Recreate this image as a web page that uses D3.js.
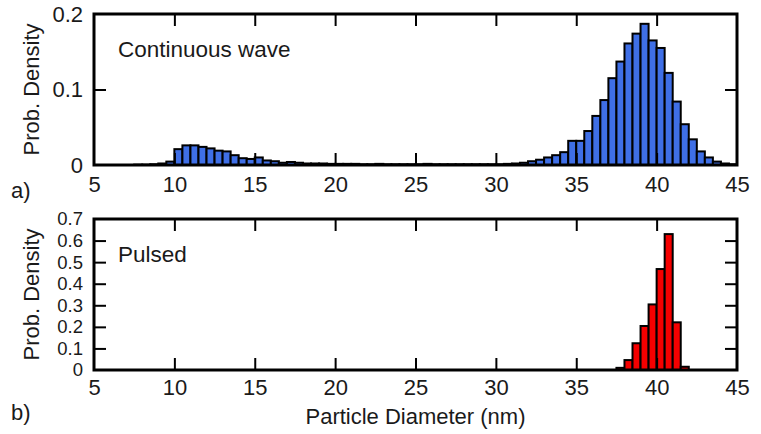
<!DOCTYPE html>
<html>
<head>
<meta charset="utf-8">
<script src="https://cdn.jsdelivr.net/npm/d3@7"></script>
<style>
  html, body { margin: 0; padding: 0; background: #fff; }
  svg { display: block; font-family: Arial, "Liberation Sans", sans-serif; }
</style>
</head>
<body>
<svg id="chart" width="761" height="434"></svg>
<script>
// Histogram bin width (nm)
const binWidth = 0.5;

// a) Continuous wave: bin start diameters (nm) and probability density
const cwBins = [
  5.0, 5.5, 6.0, 6.5, 7.0, 7.5, 8.0, 8.5, 9.0, 9.5,
  10.0, 10.5, 11.0, 11.5, 12.0, 12.5, 13.0, 13.5, 14.0, 14.5,
  15.0, 15.5, 16.0, 16.5, 17.0, 17.5, 18.0, 18.5, 19.0, 19.5,
  20.0, 20.5, 21.0, 21.5, 22.0, 22.5, 23.0, 23.5, 24.0, 24.5,
  25.0, 25.5, 26.0, 26.5, 27.0, 27.5, 28.0, 28.5, 29.0, 29.5,
  30.0, 30.5, 31.0, 31.5, 32.0, 32.5, 33.0, 33.5, 34.0, 34.5,
  35.0, 35.5, 36.0, 36.5, 37.0, 37.5, 38.0, 38.5, 39.0, 39.5,
  40.0, 40.5, 41.0, 41.5, 42.0, 42.5, 43.0, 43.5, 44.0, 44.5
];
const cwDensity = [
  0, 0, 0, 0, 0, 0.0005, 0.0005, 0.001, 0.002, 0.0045,
  0.021, 0.026, 0.026, 0.024, 0.022, 0.019, 0.018, 0.013, 0.009, 0.008,
  0.010, 0.006, 0.005, 0.003, 0.004, 0.003, 0.002, 0.002, 0.002, 0.0015,
  0.0015, 0.0015, 0.0015, 0.001, 0.001, 0.0015, 0.001, 0.001, 0.001, 0.001,
  0.001, 0.0015, 0.001, 0.001, 0.001, 0.001, 0.001, 0.001, 0.001, 0.001,
  0.001, 0.0015, 0.002, 0.003, 0.005, 0.007, 0.010, 0.013, 0.017, 0.032,
  0.032, 0.045, 0.065, 0.086, 0.115, 0.137, 0.161, 0.174, 0.187, 0.165,
  0.155, 0.122, 0.084, 0.054, 0.034, 0.018, 0.010, 0.0045, 0.002, 0.001
];

// b) Pulsed: bin start diameters (nm) and probability density
const pulsedBins = [37.5, 38.0, 38.5, 39.0, 39.5, 40.0, 40.5, 41.0, 41.5];
const pulsedDensity = [0.01, 0.046, 0.124, 0.204, 0.304, 0.468, 0.630, 0.221, 0.015];

// Axis ticks and labels
const xTicks = [5, 10, 15, 20, 25, 30, 35, 40, 45];
const cwYTicks = [0, 0.1, 0.2];
const pulsedYTicks = [0, 0.1, 0.2, 0.3, 0.4, 0.5, 0.6, 0.7];
const yLabel = "Prob. Density";
const xLabel = "Particle Diameter (nm)";

const svg = d3.select("#chart");
const left = 94, right = 737;
const x = d3.scaleLinear().domain([5, 45]).range([left, right]);

const fontSize = 22;
const tickLen = 12;
const textColor = "#1a1a1a";
const fontFamily = "Arial, 'Liberation Sans', sans-serif";

function panel(cfg) {
  const y = d3.scaleLinear().domain(cfg.yDomain).range([cfg.bottom, cfg.top]);
  const g = svg.append("g");

  // bars
  g.append("g").selectAll("rect")
    .data(cfg.bins.map((b, i) => ({ b, v: cfg.values[i] })).filter(d => d.v > 0))
    .join("rect")
    .attr("x", d => x(d.b))
    .attr("width", d => x(d.b + binWidth) - x(d.b))
    .attr("y", d => y(d.v))
    .attr("height", d => y(0) - y(d.v))
    .attr("fill", cfg.color)
    .attr("stroke", "#000")
    .attr("stroke-width", 2);

  const inner = cfg.yTicks.slice(1, -1);
  const innerX = xTicks.slice(1, -1);

  // tick labels
  const bottomAxis = g.append("g").attr("transform", `translate(0,${cfg.bottom})`)
    .call(d3.axisBottom(x).tickValues(xTicks).tickSize(0).tickPadding(cfg.xPad).tickFormat(d3.format("d")));
  bottomAxis.select(".domain").remove();
  bottomAxis.selectAll("text").attr("font-size", fontSize).attr("font-family", fontFamily).attr("fill", textColor);

  const leftAxis = g.append("g").attr("transform", `translate(${left},0)`)
    .call(d3.axisLeft(y).tickValues(cfg.yTicks).tickSize(0).tickPadding(11).tickFormat(cfg.fmt));
  leftAxis.select(".domain").remove();
  leftAxis.selectAll("text").attr("font-size", cfg.yTickFont).attr("font-family", fontFamily).attr("fill", textColor);

  // ticks pointing into the frame on all four sides
  g.append("g").attr("transform", `translate(0,${cfg.bottom})`)
    .call(d3.axisBottom(x).tickValues(innerX).tickSize(-tickLen).tickFormat(""))
    .call(s => s.select(".domain").remove());
  g.append("g").attr("transform", `translate(0,${cfg.top})`)
    .call(d3.axisTop(x).tickValues(innerX).tickSize(-tickLen).tickFormat(""))
    .call(s => s.select(".domain").remove());
  g.append("g").attr("transform", `translate(${left},0)`)
    .call(d3.axisLeft(y).tickValues(inner).tickSize(-tickLen).tickFormat(""))
    .call(s => s.select(".domain").remove());
  g.append("g").attr("transform", `translate(${right},0)`)
    .call(d3.axisRight(y).tickValues(inner).tickSize(-tickLen).tickFormat(""))
    .call(s => s.select(".domain").remove());

  g.selectAll(".tick line").attr("stroke", "#000").attr("stroke-width", 2);

  // frame
  g.append("rect")
    .attr("x", left).attr("y", cfg.top)
    .attr("width", right - left).attr("height", cfg.bottom - cfg.top)
    .attr("fill", "none").attr("stroke", "#000").attr("stroke-width", 3);

  // y axis title
  g.append("text")
    .attr("transform", `translate(39,${(cfg.top + cfg.bottom) / 2}) rotate(-90)`)
    .attr("text-anchor", "middle")
    .attr("font-size", fontSize).attr("fill", textColor)
    .text(yLabel);

  // series name
  g.append("text")
    .attr("x", 118).attr("y", cfg.top + 43)
    .attr("font-size", fontSize + 0.5).attr("fill", textColor)
    .text(cfg.name);

  // panel letter
  g.append("text")
    .attr("x", 11).attr("y", cfg.letterY)
    .attr("font-size", fontSize).attr("fill", textColor)
    .text(cfg.letter);
}

panel({
  top: 14, bottom: 165, yDomain: [0, 0.2], yTicks: cwYTicks, xPad: 11, yTickFont: 22,
  fmt: d => d === 0 ? "0" : d3.format(".1f")(d),
  bins: cwBins, values: cwDensity, color: "#3f6fe6",
  name: "Continuous wave", letter: "a)", letterY: 198
});

panel({
  top: 219, bottom: 370, yDomain: [0, 0.7], yTicks: pulsedYTicks, xPad: 9, yTickFont: 18.5,
  fmt: d => d === 0 ? "0" : d3.format(".1f")(d),
  bins: pulsedBins, values: pulsedDensity, color: "#f50000",
  name: "Pulsed", letter: "b)", letterY: 420
});

svg.append("text")
  .attr("x", (left + right) / 2).attr("y", 424)
  .attr("text-anchor", "middle")
  .attr("font-size", fontSize).attr("fill", textColor)
  .text(xLabel);
</script>
</body>
</html>
